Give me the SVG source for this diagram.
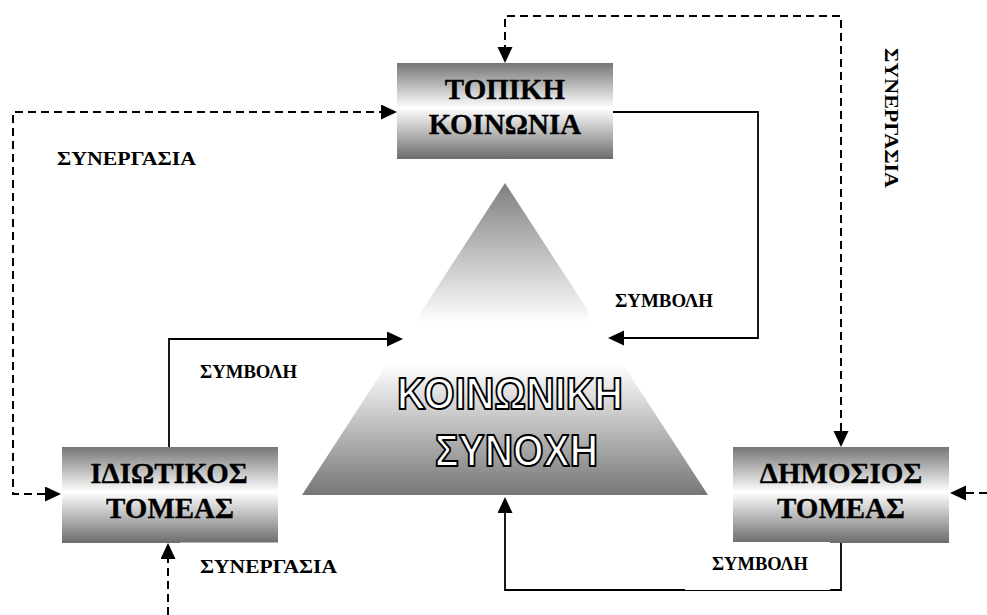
<svg xmlns="http://www.w3.org/2000/svg" width="987" height="615" viewBox="0 0 987 615">
  <defs>
    <linearGradient id="boxFill" x1="0" y1="0" x2="0" y2="1">
      <stop offset="0" stop-color="#767676"/>
      <stop offset="0.47" stop-color="#ffffff"/>
      <stop offset="1" stop-color="#6c6c6c"/>
    </linearGradient>
    <linearGradient id="pyramidFill" x1="0" y1="0" x2="0" y2="1">
      <stop offset="0" stop-color="#7f7f7f"/>
      <stop offset="0.45" stop-color="#ffffff"/>
      <stop offset="0.58" stop-color="#ffffff"/>
      <stop offset="1" stop-color="#767676"/>
    </linearGradient>
    <marker id="arrow" markerUnits="userSpaceOnUse" markerWidth="18" markerHeight="16" refX="6" refY="7.5" orient="auto-start-reverse">
      <path d="M0,0 L16,7.5 L0,15 Z" fill="#000"/>
    </marker>
  </defs>
  <style>
    .box { fill: url(#boxFill); }
    .boxText { font-family: "Liberation Serif", "Times New Roman", serif; font-weight: bold; font-size: 29px; fill: #000; stroke: #000; stroke-width: 0.3; text-anchor: middle; }
    .label { font-family: "Liberation Serif", "Times New Roman", serif; font-weight: bold; font-size: 18px; fill: #000; }
    .big { font-family: "Liberation Sans", Arial, sans-serif; font-weight: bold; font-size: 44px; fill: #fff; stroke: #000; stroke-width: 2; stroke-linejoin: round; }
    .solid { fill: none; stroke: #000; stroke-width: 1.8; }
    .dashed { fill: none; stroke: #000; stroke-width: 2; stroke-dasharray: 8 5; }
    .labelBg { fill: #fff; }
  </style>

  <!-- central pyramid -->
  <g id="pyramid">
    <polygon points="505,183 302,495 708,495" fill="url(#pyramidFill)"/>
  </g>

  <!-- actor boxes -->
  <g id="topiki-koinonia">
    <rect class="box" x="397" y="63" width="216" height="96"/>
    <text class="boxText" x="505" y="99">ΤΟΠΙΚΗ</text>
    <text class="boxText" x="505" y="134">ΚΟΙΝΩΝΙΑ</text>
  </g>
  <g id="idiotikos-tomeas">
    <rect class="box" x="62" y="447" width="216" height="96"/>
    <text class="boxText" x="169" y="483">ΙΔΙΩΤΙΚΟΣ</text>
    <text class="boxText" x="170" y="518">ΤΟΜΕΑΣ</text>
  </g>
  <g id="dimosios-tomeas">
    <rect class="box" x="733" y="447" width="216" height="96"/>
    <text class="boxText" x="841" y="483">ΔΗΜΟΣΙΟΣ</text>
    <text class="boxText" x="841" y="518">ΤΟΜΕΑΣ</text>
  </g>

  <!-- connectors -->
  <g id="connectors">
    <path class="dashed" d="M387,112 L13,112 L13,494 L51,494" marker-start="url(#arrow)" marker-end="url(#arrow)"/>
    <path class="dashed" d="M505,53 L505,16 L841,16 L841,437" marker-start="url(#arrow)" marker-end="url(#arrow)"/>
    <path class="dashed" d="M168,615 L168,553" marker-end="url(#arrow)"/>
    <path class="dashed" d="M987,493 L960,493" marker-end="url(#arrow)"/>
    <path class="solid" d="M613,112 L758,112 L758,338 L618,338" marker-end="url(#arrow)"/>
    <path class="solid" d="M169,447 L169,339 L393,339" marker-end="url(#arrow)"/>
    <path class="solid" d="M841,543 L841,590 L505,590 L505,507" marker-end="url(#arrow)"/>
  </g>

  <!-- label backgrounds -->
  <g id="label-backgrounds">
    <rect class="labelBg" x="588" y="280" width="132" height="43"/>
    <rect class="labelBg" x="685" y="542" width="145" height="48"/>
    <rect class="labelBg" x="180" y="542.5" width="165" height="40"/>
  </g>

  <!-- connector labels -->
  <g id="labels">
    <text class="label" x="57" y="165" textLength="139" lengthAdjust="spacingAndGlyphs">ΣΥΝΕΡΓΑΣΙΑ</text>
    <text class="label" x="200" y="573" textLength="137" lengthAdjust="spacingAndGlyphs">ΣΥΝΕΡΓΑΣΙΑ</text>
    <text class="label" x="200" y="378" textLength="97" lengthAdjust="spacingAndGlyphs">ΣΥΜΒΟΛΗ</text>
    <text class="label" x="615" y="307" textLength="98" lengthAdjust="spacingAndGlyphs">ΣΥΜΒΟΛΗ</text>
    <text class="label" x="712" y="570" textLength="96" lengthAdjust="spacingAndGlyphs">ΣΥΜΒΟΛΗ</text>
    <text class="label" transform="translate(885,48) rotate(90)" x="0" y="0" textLength="140" lengthAdjust="spacingAndGlyphs">ΣΥΝΕΡΓΑΣΙΑ</text>
  </g>

  <!-- pyramid title -->
  <g id="pyramid-title">
    <text class="big" x="397" y="409" textLength="226" lengthAdjust="spacingAndGlyphs">ΚΟΙΝΩΝΙΚΗ</text>
    <text class="big" x="435" y="466" textLength="163" lengthAdjust="spacingAndGlyphs">ΣΥΝΟΧΗ</text>
  </g>
</svg>
